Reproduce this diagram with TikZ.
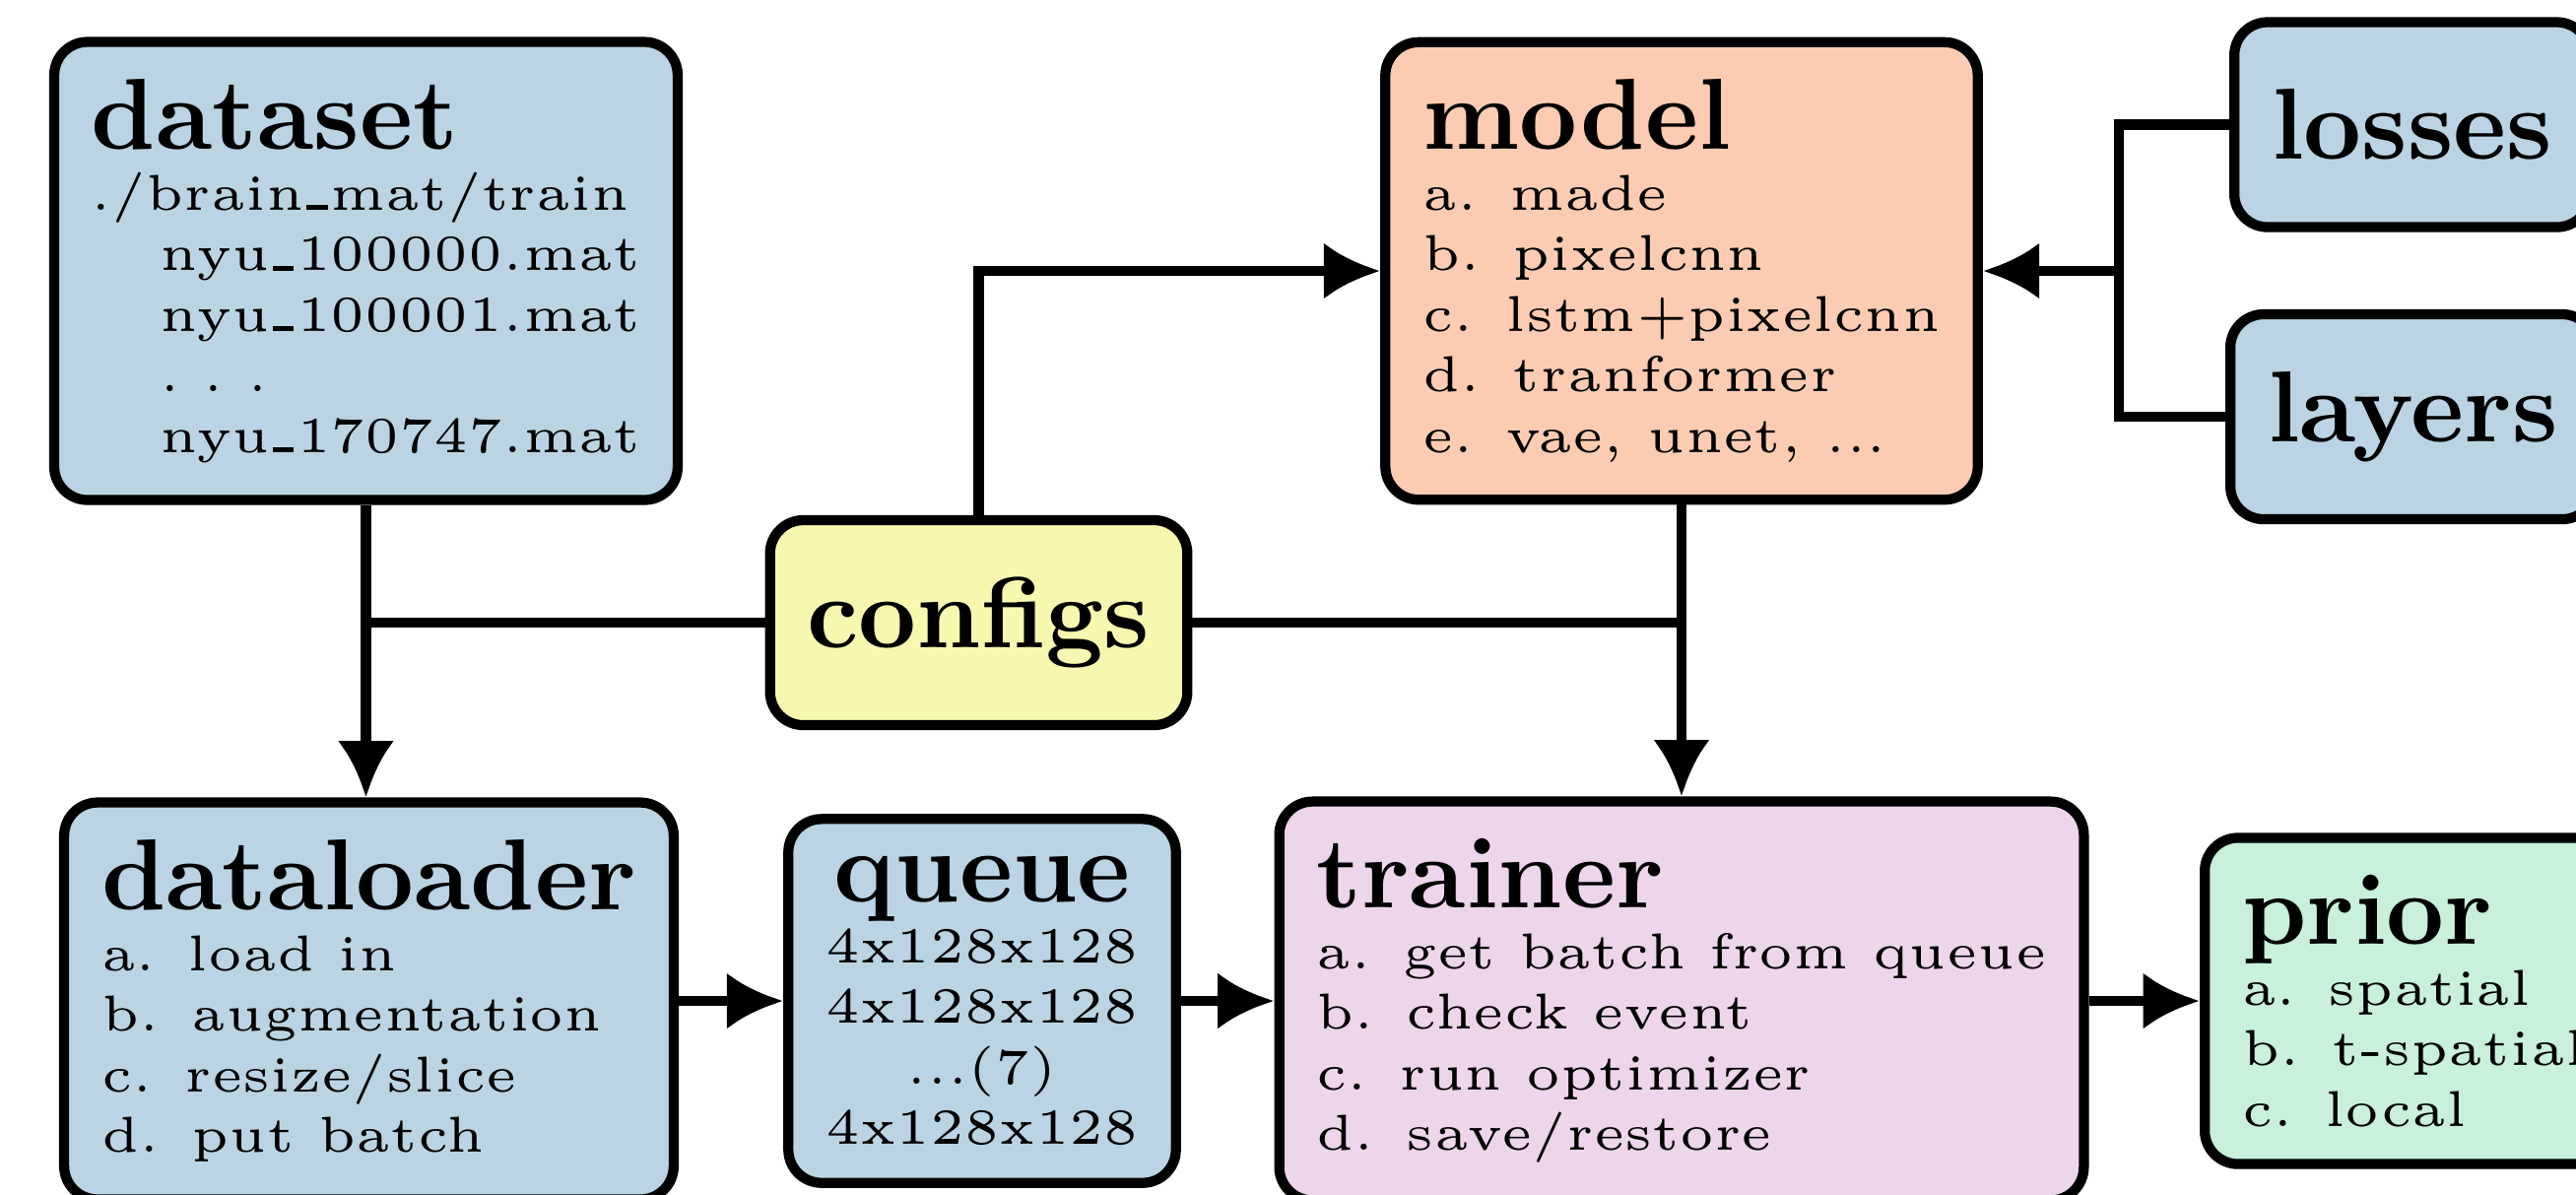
\documentclass[tikz,border=0pt]{standalone}
\usetikzlibrary{arrows.meta}
\definecolor{cblue}{RGB}{187,212,227}
\definecolor{cpeach}{RGB}{252,204,178}
\definecolor{cyellow}{RGB}{247,247,176}
\definecolor{clav}{RGB}{237,213,236}
\definecolor{cmint}{RGB}{200,240,219}
\tikzset{
  box/.style={draw=black, line width=1pt, rounded corners=3.3pt, inner sep=3.7pt,
    font=\tiny, align=left},
  single/.style={box, minimum height=20.3pt},
  conn/.style={draw=black, line width=1pt},
  arr/.style={conn, -{Latex[length=5.6pt,width=5.6pt]}}
}
\newcommand{\ttlx}[1]{{\normalsize\bfseries #1}}
\newcommand{\usc}{\kern0.05em\rule{0.42em}{0.45pt}\kern0.05em}
\begin{document}
\begin{tikzpicture}[x=0.09756pt, y=-0.09756pt]
\useasboundingbox (0,0) rectangle (2615,1212);
\clip (0,0) rectangle (2615,1212);
% top row
\node[box, fill=cblue] (dataset) at (371.5,275) {\ttlx{dataset}\\
./brain\usc mat/train\\
\hspace*{6.8pt}nyu\usc 100000.mat\\
\hspace*{6.8pt}nyu\usc 100001.mat\\
\hspace*{6.8pt}.\hspace{2.3pt}.\hspace{2.3pt}.\\
\hspace*{6.8pt}nyu\usc 170747.mat};
\node[box, fill=cpeach] (model) at (1707,275) {\ttlx{model}\\
a. made\\
b. pixelcnn\\
c. lstm+pixelcnn\\
d. tranformer\\
e. vae, unet, ...};
\node[single, fill=cblue, anchor=west] (losses) at (2263,126.5) {\ttlx{losses}};
\node[single, fill=cblue, anchor=west] (layers) at (2259,423) {\ttlx{layers}};
% middle
\node[single, fill=cyellow] (configs) at (993.5,632) {\ttlx{configs}};
% bottom row
\node[box, fill=cblue] (dataloader) at (374.5,1016) {\ttlx{dataloader}\\
a. load in\\
b. augmentation\\
c. resize/slice\\
d. put batch};
\node[box, fill=cblue, align=center] (queue) at (997,1016) {\ttlx{queue}\\
4x128x128\\
4x128x128\\
...(7)\\
4x128x128};
\node[box, fill=clav] (trainer) at (1707,1016) {\ttlx{trainer}\\
a. get batch from queue\\
b. check event\\
c. run optimizer\\
d. save/restore};
\node[box, fill=cmint, anchor=west] (prior) at (2233,1016) {\ttlx{prior}\\
a. spatial\\
b. t-spatial\\
c. local};
% connectors
\coordinate (jl) at (dataset.south |- configs.west);
\coordinate (jr) at (model.south |- configs.east);
\coordinate (bus) at (2151,275);
\draw[arr] (dataset.south) -- (dataset.south |- dataloader.north);
\draw[conn] (configs.west) -- (jl);
\draw[arr] (model.south) -- (model.south |- trainer.north);
\draw[conn] (configs.east) -- (jr);
\draw[arr] (configs.north) |- (model.west);
\draw[conn] (losses.west) -| (bus) |- (layers.west);
\draw[arr] (bus) -- (model.east);
\draw[arr] (dataloader.east |- queue.west) -- (queue.west);
\draw[arr] (queue.east) -- (trainer.west |- queue.east);
\draw[arr] (trainer.east |- prior.west) -- (prior.west);
\end{tikzpicture}
\end{document}
